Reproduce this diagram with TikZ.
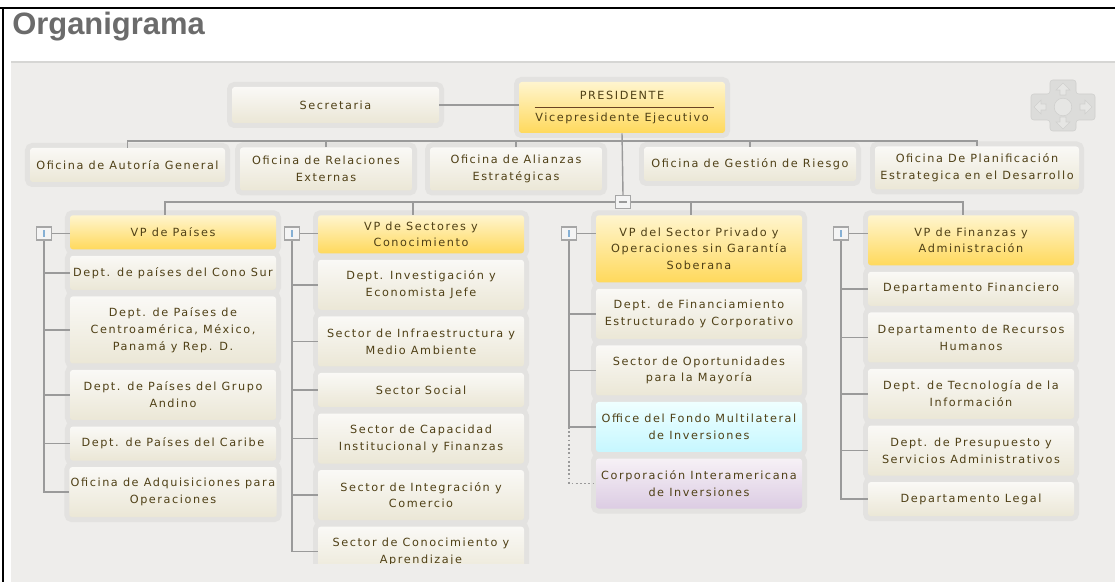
\documentclass[tikz,border=0pt]{standalone}
\usepackage{fontspec}
\setmainfont{DejaVu Sans}
\newfontfamily\orgfont[LetterSpace=14]{DejaVu Sans}
\newfontfamily\titlefont{Liberation Sans}
\usetikzlibrary{positioning,calc}
\definecolor{PanelGrey}{HTML}{EEEDEB}
\definecolor{PanelEdge}{HTML}{D6D6D4}
\definecolor{HaloGrey}{HTML}{E3E2E0}
\definecolor{BoxTop}{HTML}{FAF9F6}
\definecolor{BoxBot}{HTML}{EBE7D6}
\definecolor{VPTop}{HTML}{FFF5CE}
\definecolor{VPBot}{HTML}{FFD95C}
\definecolor{FondoTop}{HTML}{EFFFFF}
\definecolor{FondoBot}{HTML}{C6F7FF}
\definecolor{CorpTop}{HTML}{F6F1F6}
\definecolor{CorpBot}{HTML}{DCCCE3}
\definecolor{BoxText}{HTML}{4F4016}
\definecolor{LineGrey}{HTML}{9A9A9A}
\definecolor{TogEdge}{HTML}{A6A6A6}
\definecolor{TogFill}{HTML}{F4F4F4}
\definecolor{TogMark}{HTML}{86B0D4}
\definecolor{TitleGrey}{HTML}{6B6B6B}
\definecolor{PresLine}{HTML}{6A4424}
\definecolor{NavGrey}{HTML}{DCDCDA}
\definecolor{NavEdge}{HTML}{D0D0CE}
\definecolor{NavArrow}{HTML}{E6E6E4}
\newcommand{\pxu}{0.025cm}

\begin{document}
\begin{tikzpicture}[
    x=0.025cm, y=-0.025cm,
    node distance=0.15cm,
    every node/.style={font=\orgfont\fontsize{8}{12}\selectfont, text=BoxText},
    orgbox/.style={rectangle, rounded corners=2pt, top color=BoxTop, bottom color=BoxBot,
      align=center, minimum width=206*\pxu, inner sep=1pt,
      preaction={draw=HaloGrey, line width=0.25cm}},
    vpbox/.style={orgbox, top color=VPTop, bottom color=VPBot},
    lineone/.style={minimum height=34*\pxu},
    linetwo/.style={minimum height=50*\pxu},
    linethree/.style={minimum height=67*\pxu},
    link/.style={draw=LineGrey, line width=1pt},
    dotlink/.style={link, dash pattern=on 1.3pt off 1.7pt},
    togglebox/.style={rectangle, draw=TogEdge, fill=TogFill, line width=0.8pt,
      minimum width=15*\pxu, minimum height=13*\pxu, inner sep=0pt},
    togopen/.style={togglebox, path picture={
      \draw[TogMark, line width=0.9pt] ([yshift=-2.2pt]path picture bounding box.north)
        -- ([yshift=2.2pt]path picture bounding box.south);}},
    togminus/.style={togglebox, path picture={
      \draw[LineGrey, line width=0.9pt] ([xshift=2.2pt]path picture bounding box.west)
        -- ([xshift=-2.2pt]path picture bounding box.east);}}
  ]
    % page and panel
    \useasboundingbox (0,0) rectangle (1115,582);
    \fill[white] (0,0) rectangle (1115,582);
    \fill[PanelGrey] (11,62) rectangle (1115,582);
    \draw[PanelEdge, line width=0.8pt] (11,62) -- (1115,62);
    \draw[black, line width=0.065cm] (0,8) -- (1115,8);
    \draw[black, line width=0.065cm] (3,8) -- (3,582);
    \node[font=\titlefont\bfseries\fontsize{22}{26}\selectfont, text=TitleGrey, anchor=base west, inner sep=0pt] (title) at (12,35) {Organigrama};

    % navigation cross
    \filldraw[fill=NavGrey, draw=NavEdge, rounded corners=2pt] (1050,80) -- (1076,80) -- (1076,94) -- (1095,94) -- (1095,120) -- (1076,120) -- (1076,131) -- (1050,131) -- (1050,120) -- (1031,120) -- (1031,94) -- (1050,94) -- cycle;
    \filldraw[fill=NavArrow, draw=NavEdge] (1063,107) circle (0.22cm);
    \filldraw[fill=NavArrow, draw=NavEdge] (1063,83) -- (1070,90) -- (1066,90) -- (1066,95) -- (1060,95) -- (1060,90) -- (1056,90) -- cycle;
    \filldraw[fill=NavArrow, draw=NavEdge] (1063,129) -- (1070,122) -- (1066,122) -- (1066,117) -- (1060,117) -- (1060,122) -- (1056,122) -- cycle;
    \filldraw[fill=NavArrow, draw=NavEdge] (1034,107) -- (1041,100) -- (1041,104) -- (1046,104) -- (1046,110) -- (1041,110) -- (1041,114) -- cycle;
    \filldraw[fill=NavArrow, draw=NavEdge] (1092,107) -- (1085,100) -- (1085,104) -- (1080,104) -- (1080,110) -- (1085,110) -- (1085,114) -- cycle;

    \begin{scope}
    \clip (11,62) rectangle (1115,563);

    % top level
    \node[orgbox, minimum width=207*\pxu, minimum height=36*\pxu] (secre) at (335.5,105) {Secretaria};
    \node[vpbox, minimum height=51*\pxu] (pres) at (622,107.5) {PRESIDENTE\\[3pt]Vicepresidente Ejecutivo};
    \draw[PresLine, line width=1.1pt] ([xshift=16*\pxu]pres.west) -- ([xshift=-11*\pxu]pres.east);

    % offices
    \node[orgbox, minimum width=195*\pxu, lineone] (ofaud) at (127.5,165) {Oficina de Autoría General};
    \node[orgbox, minimum width=172*\pxu, minimum height=43*\pxu] (ofrel) at (326,169) {Oficina de Relaciones\\Externas};
    \node[orgbox, minimum width=172*\pxu, minimum height=43*\pxu] (ofali) at (516,169) {Oficina de Alianzas\\Estratégicas};
    \node[orgbox, minimum width=212*\pxu, lineone] (ofges) at (750,164) {Oficina de Gestión de Riesgo};
    \node[orgbox, minimum width=204*\pxu, minimum height=43*\pxu] (ofpla) at (977,168) {Oficina De Planificación\\Estrategica en el Desarrollo};
    \coordinate (bus) at (622,141);

    % vice presidencies
    \node[togminus] (tgall) at (623,202) {};
    \node[vpbox, anchor=north, lineone] (vpa) at (173,215) {VP de Países};
    \node[vpbox, anchor=north, minimum height=38*\pxu] (vpb) at (421,215) {VP de Sectores y\\Conocimiento};
    \node[vpbox, anchor=north, linethree] (vpc) at (699,215) {VP del Sector Privado y\\Operaciones sin Garantía\\Soberana};
    \node[vpbox, anchor=north, linetwo] (vpd) at (971,215) {VP de Finanzas y\\Administración};

    % VP de Paises
    \node[orgbox, lineone, below=of vpa] (ca1) {Dept. de países del Cono Sur};
    \node[orgbox, linethree, below=of ca1] (ca2) {Dept. de Países de\\Centroamérica, México,\\Panamá y Rep. D.};
    \node[orgbox, linetwo, below=of ca2] (ca3) {Dept. de Países del Grupo\\Andino};
    \node[orgbox, lineone, below=of ca3] (ca4) {Dept. de Países del Caribe};
    \node[orgbox, linetwo, below=of ca4] (ca5) {Oficina de Adquisiciones para\\Operaciones};

    % VP de Sectores
    \node[orgbox, linetwo, below=of vpb] (cb1) {Dept. Investigación y\\Economista Jefe};
    \node[orgbox, linetwo, below=of cb1] (cb2) {Sector de Infraestructura y\\Medio Ambiente};
    \node[orgbox, lineone, below=of cb2] (cb3) {Sector Social};
    \node[orgbox, linetwo, below=of cb3] (cb4) {Sector de Capacidad\\Institucional y Finanzas};
    \node[orgbox, linetwo, below=of cb4] (cb5) {Sector de Integración y\\Comercio};
    \node[orgbox, linetwo, below=of cb5] (cb6) {Sector de Conocimiento y\\Aprendizaje};

    % VP del Sector Privado
    \node[orgbox, linetwo, below=of vpc] (cc1) {Dept. de Financiamiento\\Estructurado y Corporativo};
    \node[orgbox, linetwo, below=of cc1] (cc2) {Sector de Oportunidades\\para la Mayoría};
    \node[orgbox, linetwo, below=of cc2, top color=FondoTop, bottom color=FondoBot] (cc3) {Office del Fondo Multilateral\\de Inversiones};
    \node[orgbox, linetwo, below=of cc3, top color=CorpTop, bottom color=CorpBot] (cc4) {Corporación Interamericana\\de Inversiones};

    % VP de Finanzas
    \node[orgbox, lineone, below=of vpd] (cd1) {Departamento Financiero};
    \node[orgbox, linetwo, below=of cd1] (cd2) {Departamento de Recursos\\Humanos};
    \node[orgbox, linetwo, below=of cd2] (cd3) {Dept. de Tecnología de la\\Información};
    \node[orgbox, linetwo, below=of cd3] (cd4) {Dept. de Presupuesto y\\Servicios Administrativos};
    \node[orgbox, lineone, below=of cd4] (cd5) {Departamento Legal};

    % toggles
    \node[togopen] (ta) at (44,233.5) {};
    \node[togopen] (tb) at (292,233.5) {};
    \node[togopen] (tc) at (569,233.5) {};
    \node[togopen] (td) at (841,233.5) {};

    % links: top
    \draw[link] (secre.east) -- (secre.east -| pres.west);
    \draw[link] (pres.south) -- (tgall.north);
    \draw[link] (ofaud.north) |- (bus) -| (ofpla.north);
    \draw[link] (ofrel.north) -- (ofrel.north |- bus);
    \draw[link] (ofali.north) -- (ofali.north |- bus);
    \draw[link] (ofges.north) -- (ofges.north |- bus);
    \draw[link] ($(vpa.north)+(-8,0)$) |- (tgall.west);
    \draw[link] ($(vpd.north)+(-8,0)$) |- (tgall.east);
    \draw[link] ($(vpb.north)+(-8,0)$) -- ++(0,-13);
    \draw[link] ($(vpc.north)+(-8,0)$) -- ++(0,-13);

    % links: columns
    \draw[link] (ta.east) -- (ta.east -| vpa.west);
    \draw[link] (ta.south) |- (ca5.west);
    \draw[link] (ta.south |- ca1.west) -- (ca1.west);
    \draw[link] (ta.south |- ca2.west) -- (ca2.west);
    \draw[link] (ta.south |- ca3.west) -- (ca3.west);
    \draw[link] (ta.south |- ca4.west) -- (ca4.west);

    \draw[link] (tb.east) -- (tb.east -| vpb.west);
    \draw[link] (tb.south) |- (cb6.west);
    \draw[link] (tb.south |- cb1.west) -- (cb1.west);
    \draw[link] (tb.south |- cb2.west) -- (cb2.west);
    \draw[link] (tb.south |- cb3.west) -- (cb3.west);
    \draw[link] (tb.south |- cb4.west) -- (cb4.west);
    \draw[link] (tb.south |- cb5.west) -- (cb5.west);

    \draw[link] (tc.east) -- (tc.east -| vpc.west);
    \draw[link] (tc.south) |- (cc3.west);
    \draw[link] (tc.south |- cc1.west) -- (cc1.west);
    \draw[link] (tc.south |- cc2.west) -- (cc2.west);
    \draw[dotlink] (tc.south |- cc3.west) |- (cc4.west);

    \draw[link] (td.east) -- (td.east -| vpd.west);
    \draw[link] (td.south) |- (cd5.west);
    \draw[link] (td.south |- cd1.west) -- (cd1.west);
    \draw[link] (td.south |- cd2.west) -- (cd2.west);
    \draw[link] (td.south |- cd3.west) -- (cd3.west);
    \draw[link] (td.south |- cd4.west) -- (cd4.west);
    \end{scope}
  \end{tikzpicture}
\end{document}
